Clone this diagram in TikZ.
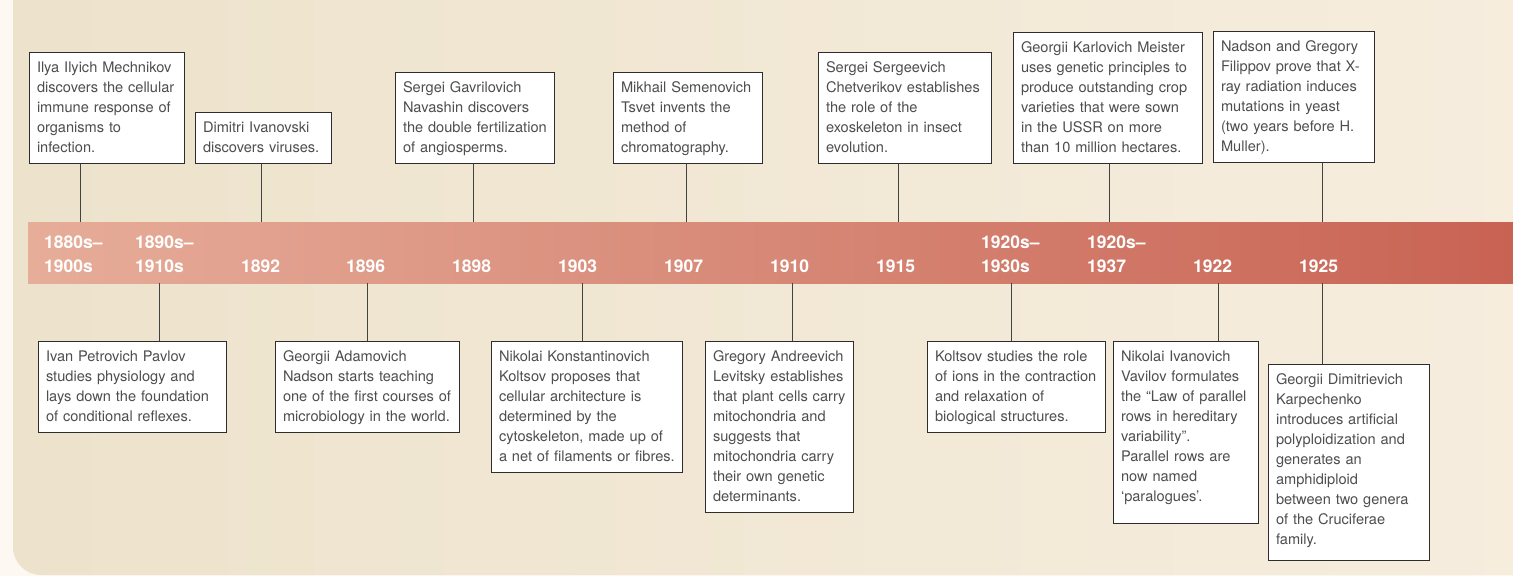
\documentclass[tikz,border=0pt]{standalone}
\usepackage{fontspec}
\setmainfont{TeX Gyre Heros}
\usepackage{tikz}
\usetikzlibrary{positioning}
\definecolor{pagetint}{RGB}{253,249,242}
\definecolor{panelleft}{RGB}{237,227,204}
\definecolor{panelright}{RGB}{246,237,222}
\definecolor{barleft}{RGB}{230,173,153}
\definecolor{barright}{RGB}{200,98,83}
\definecolor{eventtext}{RGB}{78,78,78}
\definecolor{eventline}{RGB}{45,45,45}

\begin{document}
\begin{tikzpicture}[
    x=1pt, y=-1pt,
    event/.style={rectangle, draw=eventline, fill=white, line width=1pt, align=left,
                  text=eventtext, font=\fontsize{14.6}{20}\selectfont, inner xsep=7.5pt, inner ysep=5.5pt,
                  execute at begin node=\strut, execute at end node=\strut},
    year/.style={text=white, font=\bfseries\fontsize{17.5}{24}\selectfont, align=left,
                 text width=70pt, inner sep=0pt, anchor=base west},
    bar/.style={rectangle, left color=barleft, right color=barright, minimum width=1500pt,
                minimum height=61pt, inner sep=0pt},
    link/.style={draw=eventline!90, line width=0.9pt}
]
    \useasboundingbox (0,0) rectangle (1513,576);
    \fill[pagetint] (0,0) rectangle (1513,576);
    \shade[left color=panelleft, right color=panelright, rounded corners=28pt] (13,-40) rectangle (1560,575);

    % time bar
    \node[bar, anchor=north west] (bar) at (28,222) {};
    \node[year] (y1880) at (44,248) {1880s--\\1900s};
    \node[year] (y1890) at (135,248) {1890s--\\1910s};
    \node[year] (y1892) at (241,272.5) {1892};
    \node[year] (y1896) at (346,272.5) {1896};
    \node[year] (y1898) at (452,272.5) {1898};
    \node[year] (y1903) at (558,272.5) {1903};
    \node[year] (y1907) at (664,272.5) {1907};
    \node[year] (y1910) at (770,272.5) {1910};
    \node[year] (y1915) at (876,272.5) {1915};
    \node[year] (y1920a) at (981,248) {1920s--\\1930s};
    \node[year] (y1920b) at (1087,248) {1920s--\\1937};
    \node[year] (y1922) at (1193,272.5) {1922};
    \node[year] (y1925) at (1299,272.5) {1925};

    \coordinate (t1880) at (80,222);
    \coordinate (t1892) at (261,222);
    \coordinate (t1898) at (473,222);
    \coordinate (t1907) at (686,222);
    \coordinate (t1915) at (898,222);
    \coordinate (t1920b) at (1109,222);
    \coordinate (t1925a) at (1322,222);
    \coordinate (t1890) at (159,283);
    \coordinate (t1896) at (367,283);
    \coordinate (t1903) at (582,283);
    \coordinate (t1910) at (792,283);
    \coordinate (t1920a) at (1011,283);
    \coordinate (t1922) at (1218,283);
    \coordinate (t1925b) at (1322,283);

    % events above the bar
    \node[event, text width=140pt, anchor=south west] (mech) at (29,164) {Ilya Ilyich Mechnikov\\discovers the cellular\\immune response of\\organisms to\\infection.};
    \node[event, text width=121pt, anchor=south west] (ivan) at (195,164) {Dimitri Ivanovski\\discovers viruses.};
    \node[event, text width=144pt, anchor=south west] (nav) at (395,164) {Sergei Gavrilovich\\Navashin discovers\\the double fertilization\\of angiosperms.};
    \node[event, text width=134pt, anchor=south west] (tsvet) at (613,164) {Mikhail Semenovich\\Tsvet invents the\\method of\\chromatography.};
    \node[event, text width=158pt, anchor=south west] (chet) at (818,164) {Sergei Sergeevich\\Chetverikov establishes\\the role of the\\exoskeleton in insect\\evolution.};
    \node[event, text width=174pt, anchor=south west] (meis) at (1013,164) {Georgii Karlovich Meister\\uses genetic principles to\\produce outstanding crop\\varieties that were sown\\in the USSR on more\\than 10 million hectares.};
    \node[event, text width=146pt, anchor=south west] (fil) at (1213,163) {Nadson and Gregory\\Filippov prove that X-\\ray radiation induces\\mutations in yeast\\(two years before H.\\Muller).};

    % events below the bar
    \node[event, text width=173pt, anchor=north west] (pav) at (38,341) {Ivan Petrovich Pavlov\\studies physiology and\\lays down the foundation\\of conditional reflexes.};
    \node[event, text width=169pt, anchor=north west] (nad) at (275,341) {Georgii Adamovich\\Nadson starts teaching\\one of the first courses of\\microbiology in the world.};
    \node[event, text width=176pt, anchor=north west] (kol) at (491,341) {Nikolai Konstantinovich\\Koltsov proposes that\\cellular architecture is\\determined by the\\cytoskeleton, made up of\\a net of filaments or fibres.};
    \node[event, text width=133pt, anchor=north west] (lev) at (705,341) {Gregory Andreevich\\Levitsky establishes\\that plant cells carry\\mitochondria and\\suggests that\\mitochondria carry\\their own genetic\\determinants.};
    \node[event, text width=163pt, anchor=north west] (ions) at (927,341) {Koltsov studies the role\\of ions in the contraction\\and relaxation of\\biological structures.};
    \node[event, text width=130pt, text depth=157pt, anchor=north west] (vav) at (1113,341) {Nikolai Ivanovich\\Vavilov formulates\\the “Law of parallel\\rows in hereditary\\variability”.\\Parallel rows are\\now named\\‘paralogues’.};
    \node[event, text width=146pt, text depth=171pt, anchor=north west] (karp) at (1268,364) {Georgii Dimitrievich\\Karpechenko\\introduces artificial\\polyploidization and\\generates an\\amphidiploid\\between two genera\\of the Cruciferae\\family.};

    \draw[link] (mech.south -| t1880) -- (t1880);
    \draw[link] (ivan.south -| t1892) -- (t1892);
    \draw[link] (nav.south -| t1898) -- (t1898);
    \draw[link] (tsvet.south -| t1907) -- (t1907);
    \draw[link] (chet.south -| t1915) -- (t1915);
    \draw[link] (meis.south -| t1920b) -- (t1920b);
    \draw[link] (fil.south -| t1925a) -- (t1925a);
    \draw[link] (t1890) -- (pav.north -| t1890);
    \draw[link] (t1896) -- (nad.north -| t1896);
    \draw[link] (t1903) -- (kol.north -| t1903);
    \draw[link] (t1910) -- (lev.north -| t1910);
    \draw[link] (t1920a) -- (ions.north -| t1920a);
    \draw[link] (t1922) -- (vav.north -| t1922);
    \draw[link] (t1925b) -- (karp.north -| t1925b);
\end{tikzpicture}
\end{document}
